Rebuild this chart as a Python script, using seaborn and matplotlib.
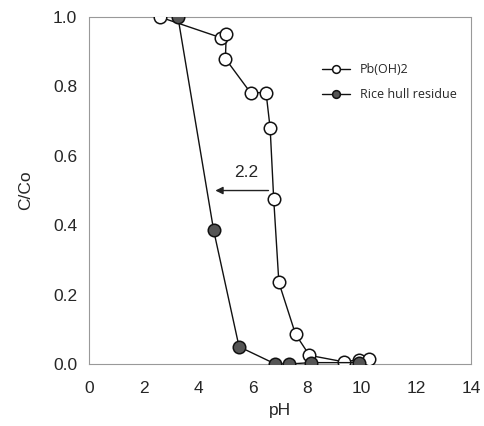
import matplotlib
matplotlib.use("Agg")
import matplotlib.pyplot as plt
import seaborn as sns
import pandas as pd

# Data
ph_pb = [2.6, 4.85, 5.03, 5.0, 5.92, 6.49, 6.64, 6.77, 6.96, 7.57, 8.08, 9.36, 9.9, 10.27]
cc_pb = [1.0, 0.94, 0.95, 0.88, 0.782, 0.782, 0.68, 0.476, 0.235, 0.086, 0.025, 0.006, 0.013, 0.015]

ph_rice = [3.26, 4.57, 5.5, 6.83, 7.32, 8.14, 9.88]
cc_rice = [1.0, 0.385, 0.05, 0.0, 0.0, 0.004, 0.004]

xticks = [0, 2, 4, 6, 8, 10, 12, 14]
yticks = [0.0, 0.2, 0.4, 0.6, 0.8, 1.0]

pb = pd.DataFrame({"pH": ph_pb, "C/Co": cc_pb})
rice = pd.DataFrame({"pH": ph_rice, "C/Co": cc_rice})

sns.set_style("white")
plt.rcParams["font.family"] = ["Liberation Sans", "DejaVu Sans"]

fig = plt.figure(figsize=(4.85, 4.26), dpi=100)
ax = fig.add_axes([0.1835, 0.1455, 0.7875, 0.8145])

sns.lineplot(data=pb, x="pH", y="C/Co", sort=False, estimator=None, ax=ax,
             color="#111111", lw=1.0, marker="o", markersize=9,
             markerfacecolor="white", markeredgecolor="#111111",
             markeredgewidth=1.1, label="Pb(OH)2", zorder=3)
sns.lineplot(data=rice, x="pH", y="C/Co", sort=False, estimator=None, ax=ax,
             color="#111111", lw=1.0, marker="o", markersize=9,
             markerfacecolor="#555555", markeredgecolor="#111111",
             markeredgewidth=1.1, label="Rice hull residue", zorder=4)

ax.set_xlim(0, 14)
ax.set_ylim(0, 1.0)
ax.set_xticks(xticks)
ax.set_yticks(yticks)
ax.set_yticklabels([f"{v:.1f}" for v in yticks])
ax.tick_params(axis="both", direction="in", length=2, width=0.6, color="#999999",
               labelsize=12.5)
ax.tick_params(axis="y", pad=8.5)
ax.tick_params(axis="x", pad=12)
for s in ax.spines.values():
    s.set_color("#999999")
    s.set_linewidth(0.8)
    s.set_linestyle((0, (1.5, 1)))

ax.set_xlabel("pH", fontsize=12.5, labelpad=5)
ax.set_ylabel("C/Co", fontsize=12.5, labelpad=14)

# arrow showing the 2.2 shift
ax.annotate("", xy=(4.53, 0.5), xytext=(6.68, 0.5),
            arrowprops=dict(arrowstyle="-|>", color="#222222", lw=1.0,
                            mutation_scale=11))
ax.text(5.76, 0.53, "2.2", fontsize=12.5, ha="center", va="bottom")

leg = ax.legend(loc="upper left", bbox_to_anchor=(0.597, 0.882), frameon=False,
                borderaxespad=0, borderpad=0.4,
                handlelength=2.24, handletextpad=0.8, markerscale=0.62,
                labelspacing=1.0, prop={"family": "Open Sans", "size": 9})

fig.savefig("out.png", dpi=100)
